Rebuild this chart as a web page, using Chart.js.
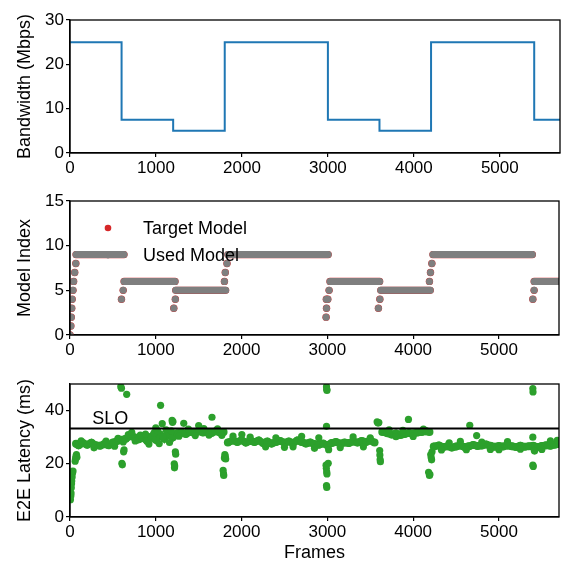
<!DOCTYPE html>
<html>
<head>
<meta charset="utf-8">
<script src="https://cdn.jsdelivr.net/npm/chart.js@4.4.1/dist/chart.umd.min.js"></script>
<style>
  html, body { margin: 0; padding: 0; background: #fff; }
  #wrap { position: relative; width: 563px; height: 567px; }
  #wrap canvas { position: absolute; left: 0; top: 0; }
</style>
</head>
<body>
<div id="wrap">
  <canvas id="bw"  width="563" height="567"></canvas>
  <canvas id="mdl" width="563" height="567"></canvas>
  <canvas id="lat" width="563" height="567"></canvas>
</div>
<script>
/* ---------- data ---------- */
const X_MAX  = 5700;
const xTicks = [0, 1000, 2000, 3000, 4000, 5000];

// bandwidth trace (step changes)
const bwFrames = [0, 600, 1200, 1800, 3000, 3600, 4200, 5400, 5700];
const bwMbps   = [25, 7.5, 5, 25, 7.5, 5, 25, 7.5, 7.5];
const bwTicks  = [0, 10, 20, 30];

// model index: long flat runs [from, to, index] + single transition points [frame, index]
const usedRuns = [
  [70, 630, 9], [630, 1225, 6], [1232, 1815, 5], [1840, 3010, 9],
  [3030, 3610, 6], [3622, 4200, 5], [4230, 5390, 9], [5410, 5700, 6]
];
const usedSteps = [
  [0, 0], [10, 1], [15, 2], [20, 3], [25, 4], [35, 5], [42, 6], [55, 7], [68, 8],
  [600, 4], [620, 5],
  [1210, 3], [1228, 4],
  [1800, 6], [1810, 7], [1830, 8],
  [2985, 2], [2990, 3], [2988, 4], [3005, 4], [3020, 5],
  [3595, 3], [3612, 4],
  [4190, 6], [4202, 7], [4218, 8],
  [5395, 4], [5410, 5]
];
const targetRuns  = usedRuns;
const targetSteps = usedSteps;
const modelTicks  = [0, 5, 10, 15];

// end-to-end latency: dense band segments + scattered points
const latBand1 = [
  [70, 27.5], [100, 27], [150, 27.8], [200, 27.2], [250, 27.9], [300, 27], [350, 26.8],
  [400, 27.4], [450, 27], [500, 28], [550, 28.6], [600, 29], [650, 29.4], [700, 30.5],
  [750, 30], [800, 29.2], [850, 29.8], [900, 28.6], [950, 30.2], [1000, 29], [1050, 31],
  [1100, 29.5], [1150, 31.2], [1200, 30], [1250, 31.5], [1300, 31.8], [1350, 31.2],
  [1400, 32], [1450, 31.6], [1500, 32.2], [1550, 31.8], [1600, 32], [1650, 31.6],
  [1700, 32.2], [1750, 31.8], [1790, 32]
];
const latBand2 = [
  [1840, 28], [1900, 28.8], [1950, 28.2], [2000, 28.9], [2050, 28], [2100, 28.6],
  [2150, 28.2], [2200, 28.8], [2250, 27.8], [2300, 28.4], [2350, 27.6], [2400, 28.2],
  [2450, 28.6], [2500, 27.9], [2550, 28.4], [2600, 27.8], [2650, 28.8], [2700, 28.2],
  [2750, 27.6], [2800, 28], [2850, 27.4], [2900, 27.2], [2950, 27.6], [3000, 27],
  [3050, 27.8], [3100, 28.2], [3150, 27.6], [3200, 28], [3250, 27.8], [3300, 28.4],
  [3350, 28], [3400, 28.6], [3450, 28.2], [3500, 28.8], [3550, 28]
];
const latBand3 = [
  [3640, 32], [3700, 31.5], [3750, 31], [3800, 31.4], [3850, 30.8], [3900, 31.2],
  [3950, 31.6], [4000, 31.4], [4050, 31.8], [4100, 32], [4150, 32.2], [4190, 32]
];
const latBand4 = [
  [4240, 26.5], [4300, 26.9], [4350, 26.3], [4400, 26.6], [4450, 26.1], [4500, 26.5],
  [4550, 26.9], [4600, 26.3], [4650, 26.6], [4700, 27.1], [4750, 26.7], [4800, 26.9],
  [4850, 27.3], [4900, 26.8], [4950, 26.4], [5000, 26.7], [5050, 26.5], [5100, 26.9],
  [5150, 26.6], [5200, 26.3], [5250, 26.8], [5300, 26.4], [5350, 26.6], [5400, 26.8],
  [5450, 26.3], [5500, 26.7], [5550, 27], [5600, 26.8], [5650, 27.2], [5700, 27.5]
];
// points just off the band (noise around the main trend)
const latNoise = [
  [130, 28.6], [280, 26], [420, 28.5], [520, 26.6], [560, 29.6], [620, 28.2], [680, 31],
  [720, 31.8], [760, 28.6], [820, 30.8], [880, 31.2], [920, 27.4], [980, 31.6], [1020, 32.5],
  [1040, 27.6], [1080, 30.2], [1120, 32.8], [1160, 28], [1180, 32.4], [1270, 30.4],
  [1380, 33], [1460, 30.6], [1560, 33.2], [1620, 30.8], [1720, 33.1], [1770, 30.7],
  [1900, 30.4], [2100, 30], [2280, 26.4], [2400, 29.8], [2500, 26.2], [2600, 26.4],
  [2700, 30.3], [2850, 25.8], [2900, 29.8], [3150, 26.1], [3300, 30.1], [3420, 26.4],
  [3500, 29.8], [3720, 32.8], [3800, 30.2], [3880, 32.6], [4000, 30.3], [4120, 33],
  [4330, 25.2], [4420, 27.9], [4550, 28.4], [4620, 25.3], [4800, 28.2], [4900, 25.4],
  [5000, 25.3], [5100, 28.3], [5250, 25.5], [5500, 25.4], [5600, 28.6], [5680, 28.8]
];
const latScatter = [
  [5, 6.5], [10, 8], [12, 9], [15, 11], [18, 12.5], [20, 13.5], [25, 15], [30, 16.5], [35, 17.3],
  [60, 21], [65, 22], [70, 22.8], [75, 23.5], [80, 22.5],
  [592, 49], [600, 48.4], [661, 46.1], [605, 20.2], [610, 19.6], [625, 24.5], [630, 25.2],
  [1056, 42], [1075, 35.1], [1000, 33.5], [1190, 36.3], [1195, 35.6], [1200, 35.9],
  [1215, 20], [1218, 18.5], [1220, 19.2], [1228, 24.5], [1232, 23.6], [1326, 35.2],
  [1500, 34.4], [1655, 37.5],
  [1785, 17.5], [1790, 16.2], [1792, 15.6], [1800, 22.2], [1805, 23.5], [1810, 22.8], [1815, 21.8],
  [2003, 31],
  [2990, 49], [2993, 48], [2995, 47.6], [2990, 34.1], [2985, 19.5], [2988, 18.3], [2992, 17],
  [2995, 16.2], [2990, 11.8], [2993, 11.1], [3010, 20.2], [3015, 25.3],
  [3580, 35.8], [3590, 35.3], [3600, 35.5], [3610, 25], [3612, 23.3], [3615, 21.6], [3618, 20.8],
  [3945, 36.7],
  [4180, 16.8], [4190, 15.6], [4195, 16], [4205, 23.5], [4210, 22.4], [4215, 21.5], [4220, 24.5],
  [4660, 34.5], [4740, 30.6],
  [5395, 48.3], [5397, 47], [5395, 30], [5395, 19.5], [5400, 19], [5410, 25.3], [5415, 24.8]
];
const sloMs    = 33.3;
const latTicks = [0, 20, 40];

/* ---------- helpers ---------- */
const FONT   = "'Liberation Sans', Arial, sans-serif";
const BLUE   = "#1f77b4", RED = "#d62728", GREY = "#7f7f7f", GREEN = "#2ca02c";
const pts    = arr => arr.map(([x, y]) => ({ x, y }));
const runs   = arr => arr.flatMap(([a, b, v]) => [{ x: a, y: v }, { x: b, y: v }, { x: b, y: null }]);
const bands  = (...segs) => segs.flatMap(s => [...pts(s), { x: s[s.length - 1][0], y: null }]);

// full box round each axes
const boxPlugin = {
  id: "box",
  afterDatasetsDraw(chart) {
    const { ctx, chartArea: a } = chart;
    ctx.save();
    ctx.strokeStyle = "#000";
    ctx.lineWidth = 1.3;
    ctx.strokeRect(a.left, a.top, a.right - a.left, a.bottom - a.top);
    ctx.restore();
  }
};

function axes(yMin, yMax, yTickList, yTitle, xTitle) {
  const tickFont = { family: FONT, size: 17 };
  return {
    x: {
      type: "linear", min: 0, max: X_MAX,
      afterBuildTicks: s => { s.ticks = xTicks.map(v => ({ value: v })); },
      afterFit: s => { s.height = xTitle ? 50 : 30; },
      grid: { drawOnChartArea: false, tickLength: 4, color: "#000", lineWidth: 1.2 },
      border: { color: "#000", width: 1.3 },
      ticks: { font: tickFont, color: "#000", padding: 1, maxRotation: 0, callback: v => String(v) },
      title: { display: !!xTitle, text: xTitle, font: { family: FONT, size: 18 }, color: "#000",
               padding: { top: 0, bottom: 3 } }
    },
    y: {
      type: "linear", min: yMin, max: yMax,
      afterBuildTicks: s => { s.ticks = yTickList.map(v => ({ value: v })); },
      afterFit: s => { s.width = 70; },
      grid: { drawOnChartArea: false, tickLength: 4, color: "#000", lineWidth: 1.2 },
      border: { color: "#000", width: 1.3 },
      ticks: { font: tickFont, color: "#000", padding: 2, callback: v => String(v) },
      title: { display: true, text: yTitle, font: { family: FONT, size: 18 }, color: "#000",
               padding: { top: 14, bottom: 0 } }
    }
  };
}

function baseOpts(padTop, padBottom, scales) {
  return {
    responsive: false, animation: false, events: [],
    layout: { padding: { top: padTop, bottom: padBottom, left: 0, right: 3 } },
    plugins: { legend: { display: false }, tooltip: { enabled: false } },
    scales
  };
}

/* ---------- bandwidth ---------- */
new Chart(document.getElementById("bw"), {
  type: "line",
  data: {
    datasets: [{
      data: bwFrames.map((f, i) => ({ x: f, y: bwMbps[i] })),
      stepped: "before", borderColor: BLUE, borderWidth: 2, pointRadius: 0, fill: false
    }]
  },
  options: baseOpts(20, 384, axes(0, 30, bwTicks, "Bandwidth (Mbps)")),
  plugins: [boxPlugin]
});

/* ---------- model index ---------- */
const legendPlugin = {
  id: "mdlLegend",
  afterDraw(chart) {
    const { ctx } = chart;
    ctx.save();
    ctx.font = `18px ${FONT}`;
    ctx.fillStyle = "#000";
    ctx.textBaseline = "middle";
    ctx.fillText("Target Model", 143, 229);
    ctx.fillText("Used Model", 143, 256);
    ctx.fillStyle = RED;
    ctx.beginPath(); ctx.arc(108, 228, 3.3, 0, Math.PI * 2); ctx.fill();
    ctx.fillStyle = GREY;
    ctx.beginPath(); ctx.arc(108, 257, 1.6, 0, Math.PI * 2); ctx.fill();
    ctx.restore();
  }
};

// chart.js paints dataset 0 last, so the used model goes first to sit on top
new Chart(document.getElementById("mdl"), {
  type: "line",
  data: {
    datasets: [
      { data: pts(usedSteps), showLine: false, pointRadius: 3.5, pointBackgroundColor: GREY,
        pointBorderWidth: 0 },
      { data: runs(usedRuns), borderColor: GREY, borderWidth: 7, borderCapStyle: "round",
        pointRadius: 0, spanGaps: false },
      { data: pts(targetSteps), showLine: false, pointRadius: 3.7, pointBackgroundColor: RED,
        pointBorderWidth: 0 },
      { data: runs(targetRuns), borderColor: RED, borderWidth: 7.2, borderCapStyle: "round",
        pointRadius: 0, spanGaps: false }
    ]
  },
  options: baseOpts(201, 202, axes(0, 15, modelTicks, "Model Index")),
  plugins: [boxPlugin, legendPlugin]
});

/* ---------- latency ---------- */
const sloPlugin = {
  id: "sloText",
  afterDatasetsDraw(chart) {
    const { ctx, scales } = chart;
    ctx.save();
    ctx.font = `18px ${FONT}`;
    ctx.fillStyle = "#000";
    ctx.textBaseline = "alphabetic";
    ctx.fillText("SLO", scales.x.getPixelForValue(260), scales.y.getPixelForValue(sloMs) - 4);
    ctx.restore();
  }
};

new Chart(document.getElementById("lat"), {
  type: "line",
  data: {
    datasets: [
      { data: [{ x: 0, y: sloMs }, { x: X_MAX, y: sloMs }], borderColor: "#000", borderWidth: 2,
        pointRadius: 0 },
      { data: pts(latScatter), showLine: false, pointRadius: 3.6, pointBackgroundColor: GREEN,
        pointBorderWidth: 0 },
      { data: pts(latNoise), showLine: false, pointRadius: 3.6, pointBackgroundColor: GREEN,
        pointBorderWidth: 0 },
      { data: bands(latBand1, latBand2, latBand3, latBand4), borderColor: GREEN, borderWidth: 7.5,
        pointRadius: 4, pointBackgroundColor: GREEN, pointBorderWidth: 0, spanGaps: false }
    ]
  },
  options: baseOpts(384, 0, axes(0, 50, latTicks, "E2E Latency (ms)", "Frames")),
  plugins: [boxPlugin, sloPlugin]
});
</script>
</body>
</html>
